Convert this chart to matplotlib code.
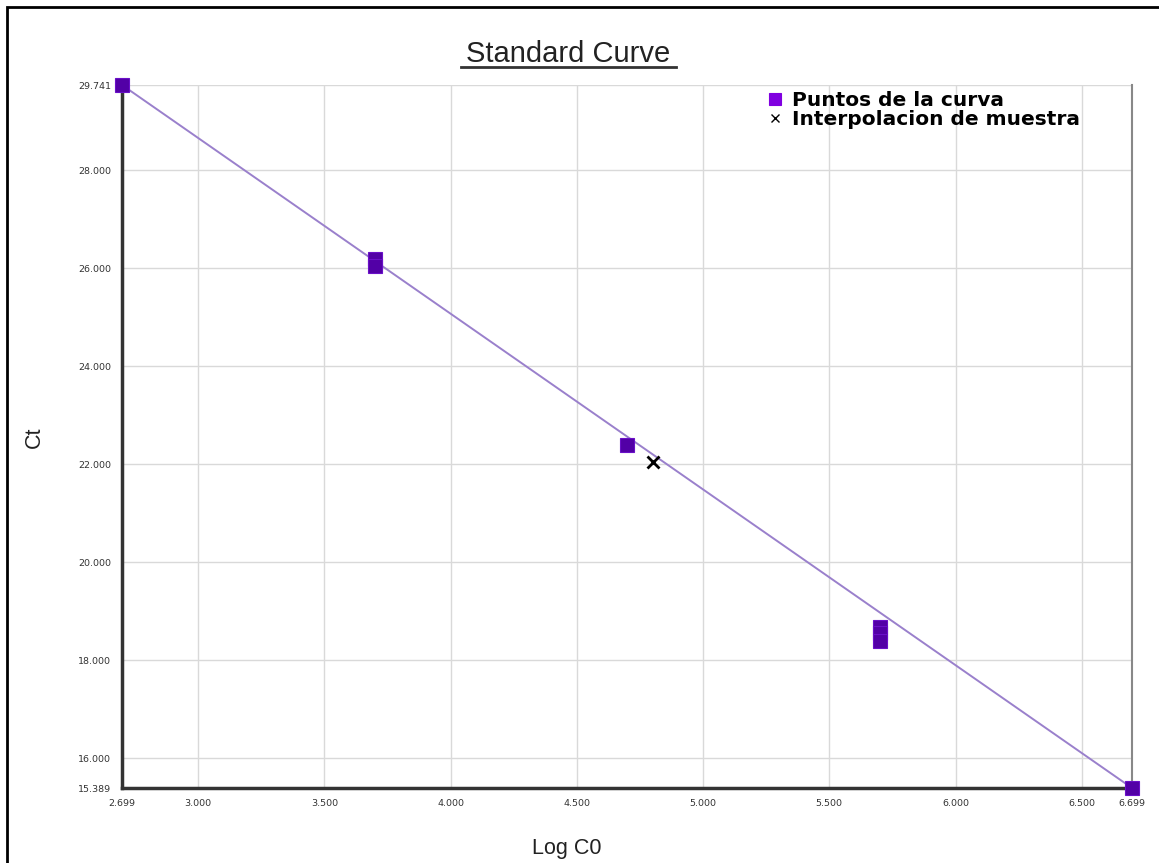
import matplotlib
matplotlib.use("Agg")
import matplotlib.pyplot as plt
from matplotlib.patches import Rectangle

# standard curve points (Log C0, Ct)
log_c0 = [2.699, 3.699, 3.699, 4.699, 5.699, 5.699, 5.699, 6.699]
ct = [29.741, 26.18, 26.05, 22.40, 18.68, 18.55, 18.40, 15.389]

# fitted line end points
fit_x = [2.699, 6.699]
fit_y = [29.741, 15.389]

# sample interpolation
sample_x = [4.80]
sample_y = [22.05]

x_ticks = [2.699, 3.0, 3.5, 4.0, 4.5, 5.0, 5.5, 6.0, 6.5, 6.699]
y_ticks = [15.389, 16.0, 18.0, 20.0, 22.0, 24.0, 26.0, 28.0, 29.741]

fig = plt.figure(figsize=(11.59, 8.63), dpi=100, facecolor="white")
ax = fig.add_axes([0.1053, 0.0869, 0.8714, 0.8146])

ax.plot(fit_x, fit_y, color="#9a80cc", lw=1.4, zorder=2, clip_on=False)
ax.plot(log_c0, ct, ls="none", marker="s", ms=9.5, mfc="#5200a6",
        mec="#6a10c8", mew=0.8, zorder=3, clip_on=False,
        label="Puntos de la curva")
ax.plot(sample_x, sample_y, ls="none", marker="x", ms=8, mec="black",
        mew=2, zorder=4, label="Interpolacion de muestra")

ax.set_xlim(2.699, 6.699)
ax.set_ylim(15.389, 29.741)
ax.set_xticks(x_ticks)
ax.set_yticks(y_ticks)
ax.set_xticklabels([f"{v:.3f}" for v in x_ticks])
ax.set_yticklabels([f"{v:.3f}" for v in y_ticks])
ax.tick_params(labelsize=6.8, labelcolor="#333333", length=0, pad=8)
ax.grid(True, color="#d9d9d9", lw=1)
ax.set_axisbelow(True)

for s in ["left", "bottom"]:
    ax.spines[s].set_color("#333333")
    ax.spines[s].set_linewidth(2.5)
ax.spines["right"].set_color("#888888")
ax.spines["right"].set_linewidth(1.5)
ax.spines["top"].set_visible(False)

leg = ax.legend(loc="upper left", bbox_to_anchor=(0.633, 1.003), frameon=False,
                prop={"family": "DejaVu Sans", "weight": "bold", "size": 14.5},
                handlelength=0.6, handletextpad=0.5, labelspacing=0.0,
                borderaxespad=0)
leg.legend_handles[0].set_markersize(8)
leg.legend_handles[0].set_markerfacecolor("#8000e0")
leg.legend_handles[0].set_markeredgecolor("#8000e0")
leg.legend_handles[1].set_markersize(6)
leg.legend_handles[1].set_markeredgewidth(1)

fig.text(0.490, 0.928, "Standard Curve", ha="center", va="baseline",
         fontsize=21, family="Liberation Sans", color="#222222")
fig.add_artist(plt.Line2D([0.398, 0.583], [0.9225, 0.9225],
                          color="#333333", lw=2))

fig.text(0.030, 0.493, "Ct", ha="center", va="center", rotation=90,
         fontsize=15.5, family="Liberation Sans", color="#222222")
fig.text(0.489, 0.017, "Log C0", ha="center", va="center",
         fontsize=15.5, family="Liberation Sans", color="#222222")

# outer frame
fig.add_artist(Rectangle((0.006, -0.05), 1.1, 1.042, transform=fig.transFigure,
                         fill=False, ec="black", lw=2))

fig.savefig("out.png", dpi=100)
